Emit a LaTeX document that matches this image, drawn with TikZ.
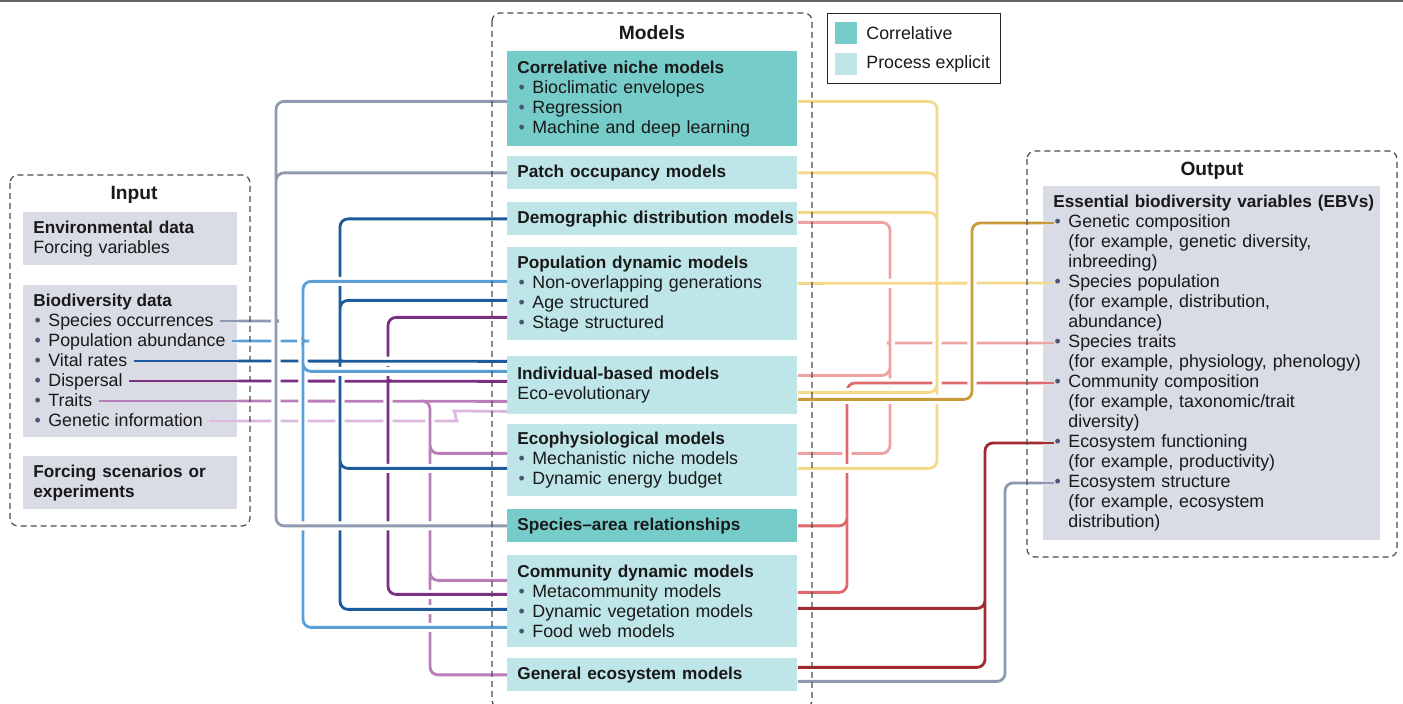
\documentclass[tikz,border=0pt]{standalone}
\usepackage{fontspec}
\setmainfont{Liberation Sans}

\definecolor{corrfill}{HTML}{76CCC8}
\definecolor{procfill}{HTML}{BEE5E8}
\definecolor{datafill}{HTML}{D9DCE5}
\definecolor{bulletcol}{HTML}{4A5578}
\definecolor{lgray}{HTML}{8F9AB2}
\definecolor{lblue}{HTML}{5A9FD6}
\definecolor{dblue}{HTML}{1B5A9B}
\definecolor{purp}{HTML}{7A2F82}
\definecolor{lilac}{HTML}{B97DBA}
\definecolor{pale}{HTML}{DDB8DE}
\definecolor{yell}{HTML}{F5D98B}
\definecolor{rose}{HTML}{EFA2A3}
\definecolor{coral}{HTML}{E0696B}
\definecolor{dred}{HTML}{A2292E}
\definecolor{gold}{HTML}{C99A38}

\newcommand{\boxfont}{\fontsize{8.9}{10}\selectfont}
\newcommand{\headfont}{\fontsize{9.6}{11}\selectfont\bfseries}
\newcommand{\boxtitle}[1]{{\fontsize{8.6}{10}\selectfont\bfseries #1}}
\newcommand{\bulitem}{\makebox[7.5pt][l]{\hspace{0.6pt}{\color{bulletcol}\textbullet}}}
\newcommand{\indentitem}{\hspace*{7.5pt}}

\begin{document}
\begin{tikzpicture}[x=0.5pt, y=-0.5pt,
    every node/.style={font=\boxfont, text=black!90},
    model/.style={anchor=north west, text width=135pt, inner xsep=5pt, inner ysep=0pt, align=left},
    corr/.style={model, fill=corrfill},
    proc/.style={model, fill=procfill},
    data/.style={anchor=north west, fill=datafill, text width=97pt, inner xsep=5pt, inner ysep=0pt, align=left},
    item/.style={anchor=west, inner xsep=3pt, inner ysep=0pt, text height=0.72em, text depth=0.21em},
    heading/.style={font=\headfont},
    frame/.style={draw=black!70, line width=0.6pt, dash pattern=on 3pt off 2pt, rounded corners=4pt},
    link/.style={line width=1.4pt, rounded corners=4pt, preaction={draw=white, line width=4.6pt}},
    stub/.style={line width=1.4pt}]

  \path[use as bounding box, fill=white] (0,0) rectangle (1403,704);
  \draw[line width=1.1pt, black!60] (0,1) -- (1403,1);

  % input
  \node[data, minimum height=26.5pt] (env) at (23,212) {\boxtitle{Environmental data}\\Forcing variables};
  \node[data, minimum height=76pt] (bio) at (23,285) {};
  \node[item] (biot) at (27,301) {\boxtitle{Biodiversity data}};
  \node[item] (occ)  at (27,321) {\bulitem Species occurrences};
  \node[item] (abu)  at (27,341) {\bulitem Population abundance};
  \node[item] (vit)  at (27,361) {\bulitem Vital rates};
  \node[item] (dis)  at (27,381) {\bulitem Dispersal};
  \node[item] (tra)  at (27,401) {\bulitem Traits};
  \node[item] (geni) at (27,421) {\bulitem Genetic information};
  \node[data, minimum height=26.5pt] (force) at (23,456) {\boxtitle{Forcing scenarios or}\\\boxtitle{experiments}};

  % models
  \node[corr, minimum height=47.5pt] (cnm) at (507,51) {\boxtitle{Correlative niche models}\\\bulitem Bioclimatic envelopes\\\bulitem Regression\\\bulitem Machine and deep learning};
  \node[proc, minimum height=16.5pt] (pom) at (507,156) {\boxtitle{Patch occupancy models}};
  \node[proc, minimum height=16.5pt] (ddm) at (507,202) {\boxtitle{\mbox{Demographic distribution models}}};
  \node[proc, minimum height=46.5pt] (pdm) at (507,247) {\boxtitle{Population dynamic models}\\\bulitem Non-overlapping generations\\\bulitem Age structured\\\bulitem Stage structured};
  \node[proc, minimum height=29pt]   (ibm) at (507,356) {\boxtitle{Individual-based models}\\Eco-evolutionary};
  \node[proc, minimum height=36pt]   (eco) at (507,424) {\boxtitle{Ecophysiological models}\\\bulitem Mechanistic niche models\\\bulitem Dynamic energy budget};
  \node[corr, minimum height=16.5pt] (sar) at (507,509) {\boxtitle{Species–area relationships}};
  \node[proc, minimum height=46pt]   (cdm) at (507,555) {\boxtitle{Community dynamic models}\\\bulitem Metacommunity models\\\bulitem Dynamic vegetation models\\\bulitem Food web models};
  \node[proc, minimum height=16.5pt] (gem) at (507,658) {\boxtitle{General ecosystem models}};

  % legend
  \node[draw=black!85, line width=0.6pt, anchor=north west, minimum width=86.5pt, minimum height=35pt] (legend) at (827,13) {};
  \node[fill=corrfill, anchor=north west, minimum size=11pt, inner sep=0pt] (swcorr) at (835,22) {};
  \node[fill=procfill, anchor=north west, minimum size=11pt, inner sep=0pt] (swproc) at (835,53) {};
  \node[anchor=west, inner sep=0pt] (lcorr) at (866,33) {Correlative};
  \node[anchor=west, inner sep=0pt] (lproc) at (866,64) {Process explicit};

  % output
  \node[data, text width=158.5pt, inner xsep=5pt, minimum height=177pt] (ebv) at (1043,186) {\boxtitle{\mbox{Essential biodiversity variables (EBVs)}}\\
    \bulitem Genetic composition\\
    \indentitem(for example, genetic diversity,\\
    \indentitem inbreeding)\\
    \bulitem Species population\\
    \indentitem(for example, distribution,\\
    \indentitem abundance)\\
    \bulitem Species traits\\
    \indentitem(for example, physiology, phenology)\\
    \bulitem Community composition\\
    \indentitem(for example, taxonomic/trait\\
    \indentitem diversity)\\
    \bulitem Ecosystem functioning\\
    \indentitem(for example, productivity)\\
    \bulitem Ecosystem structure\\
    \indentitem(for example, ecosystem\\
    \indentitem distribution)};
  \coordinate (o-gen) at (1054,223);
  \coordinate (o-pop) at (1054,283);
  \coordinate (o-tra) at (1054,343);
  \coordinate (o-com) at (1054,383);
  \coordinate (o-fun) at (1054,443);
  \coordinate (o-str) at (1054,483);

  % input -> models
  \draw[link, pale] (geni -| bio.east) -- (449,421) .. controls (456,421) and (455,411) .. (462,411) -- ([yshift=-13pt]ibm.west);
  \draw[link, lilac] (tra -| bio.east) -- ([yshift=-8pt]ibm.west)
    (420,401) -| (430,430) |- ([yshift=3.5pt]eco.west)
    (430,430) |- ([yshift=10.5pt]cdm.west)
    (430,430) |- (gem.west);
  \draw[link, purp] (dis -| bio.east) -- ([yshift=2pt]ibm.west)
    ([yshift=-11.75pt]pdm.west) -| (388,373) .. controls (388,378) and (387,381) .. (384,381)
    .. controls (387,381) and (388,384) .. (388,389) |- ([yshift=3.5pt]cdm.west);
  \draw[link, dblue] (vit -| bio.east) -- ([yshift=12pt]ibm.west)
    (ddm.west) -| (340,353) .. controls (340,358) and (339,361) .. (335,361)
    .. controls (339,361) and (340,364) .. (340,369) |- ([yshift=-4pt]cdm.west)
    ([yshift=-3.25pt]pdm.west) -| (340,330)
    ([yshift=-4pt]eco.west) -| (340,440);
  \draw[link, lblue] (abu -| bio.east) -- (297,341)
    ([yshift=6.25pt]pdm.west) -| (303,333) .. controls (303,338) and (302,341) .. (297,341)
    .. controls (302,341) and (303,344) .. (303,349) |- ([yshift=-13pt]cdm.west)
    ([yshift=7pt]ibm.west) -| (303,355);
  \draw[link, lgray] (occ -| bio.east) -- (271,321)
    ([yshift=-1.25pt]cnm.west) -| (276,313) .. controls (276,318) and (275,321) .. (271,321)
    .. controls (275,321) and (276,324) .. (276,329) |- (sar.west)
    (pom.west) -| (276,200);

  \draw[stub, lgray] (occ.east) -- (occ -| bio.east);
  \draw[stub, lblue] (abu.east) -- (abu -| bio.east);
  \draw[stub, dblue] (vit.east) -- (vit -| bio.east);
  \draw[stub, purp] (dis.east) -- (dis -| bio.east);
  \draw[stub, lilac] (tra.east) -- (tra -| bio.east);
  \draw[stub, pale] (geni.east) -- (geni -| bio.east);

  % models -> output
  \draw[link, rose] ([yshift=-1.75pt]ddm.east) -| (890,335) .. controls (890,340) and (891,343) .. (895,343)
    .. controls (891,343) and (890,346) .. (890,351) |- ([yshift=3.5pt]eco.east)
    (895,343) -- (o-tra -| ebv.west)
    ([yshift=5pt]ibm.east) -| (890,360);
  \draw[link, coral] (o-com -| ebv.west) -| (847,560) |- ([yshift=4.5pt]cdm.east)
    (sar.east) -| (847,500);
  \draw[link, yell] ([yshift=5.25pt]pdm.east) -- (o-pop -| ebv.west)
    ([yshift=-1.25pt]cnm.east) -| (937,275) .. controls (937,280) and (938,283) .. (942,283)
    .. controls (938,283) and (937,286) .. (937,291) |- ([yshift=-4pt]eco.east)
    (pom.east) -| (937,200)
    ([yshift=3.25pt]ddm.east) -| (937,240)
    ([yshift=-3.5pt]ibm.east) -| (937,370);
  \draw[link, gold] ([yshift=-7pt]ibm.east) -| (972,300) |- (o-gen -| ebv.west);
  \draw[link, dred] (o-fun -| ebv.west) -| (985,640) |- ([yshift=3.75pt]gem.east)
    ([yshift=-3.5pt]cdm.east) -| (985,580);
  \draw[link, lgray] (o-str -| ebv.west) -| (1005,600) |- ([yshift=-3.25pt]gem.east);

  \draw[stub, gold] (o-gen -| ebv.west) -- (o-gen);
  \draw[stub, yell] (o-pop -| ebv.west) -- (o-pop);
  \draw[stub, rose] (o-tra -| ebv.west) -- (o-tra);
  \draw[stub, coral] (o-com -| ebv.west) -- (o-com);
  \draw[stub, dred] (o-fun -| ebv.west) -- (o-fun);
  \draw[stub, lgray] (o-str -| ebv.west) -- (o-str);

  % frames and headings
  \draw[frame] (10,175) rectangle (250,526);
  \draw[frame] (492,13) rectangle (812,708);
  \draw[frame] (1027,151) rectangle (1397,557);
  \node[heading] (intitle) at (134,195) {Input};
  \node[heading] (modtitle) at (652,33) {Models};
  \node[heading] (outtitle) at (1212,171) {Output};

\end{tikzpicture}
\end{document}
